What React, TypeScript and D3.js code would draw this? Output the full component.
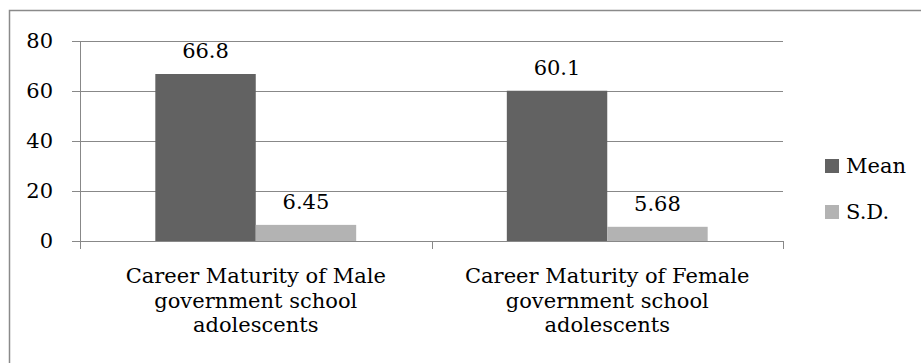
import React from "react";
import * as d3 from "d3";

// Chart data
const categories: string[][] = [
  ["Career Maturity of Male", "government school", "adolescents"],
  ["Career Maturity of Female", "government school", "adolescents"],
];
const seriesNames: string[] = ["Mean", "S.D."];
const meanValues: number[] = [66.8, 60.1];
const sdValues: number[] = [6.45, 5.68];
const valueLabels: string[][] = [
  ["66.8", "6.45"],
  ["60.1", "5.68"],
];
const yTicks: number[] = [0, 20, 40, 60, 80];

const W = 921;
const H = 363;
const plot = { left: 80, right: 783, top: 41, bottom: 241 };
const colors = ["#626262", "#b3b3b3"];
const axisColor = "#888888";
const FONT = "'DejaVu Serif', serif";
const FS = 21;

export default function App() {
  const y = d3.scaleLinear().domain([0, 80]).range([plot.bottom, plot.top]);
  const x0 = d3
    .scaleBand<number>()
    .domain(d3.range(categories.length))
    .range([plot.left, plot.right])
    .paddingInner(0)
    .paddingOuter(0);
  // gap width of 150% of a bar: 0.75 bar on each side of the pair
  const x1 = d3
    .scaleBand<number>()
    .domain(d3.range(seriesNames.length))
    .range([0, x0.bandwidth()])
    .paddingInner(0)
    .paddingOuter(0.75);

  const series = [meanValues, sdValues];
  const catBoundaries = [plot.left, ...categories.map((_, i) => (x0(i) as number) + x0.bandwidth())];

  return (
    <svg
      width={W}
      height={H}
      style={{ position: "absolute", left: 0, top: 0, background: "#fff" }}
      fontFamily={FONT}
    >
      <rect x={0} y={0} width={W} height={H} fill="#fff" />
      {/* chart frame (left and top edges visible) */}
      <path d={`M9.5,${H + 2}V10.5H${W + 2}`} fill="none" stroke="#8a8a8a" strokeWidth={1.5} />

      {/* gridlines and y ticks */}
      {yTicks.map((t) => (
        <g key={t}>
          <line
            x1={plot.left - 8}
            x2={plot.right}
            y1={Math.round(y(t)) + 0.5}
            y2={Math.round(y(t)) + 0.5}
            stroke={axisColor}
            strokeWidth={1}
          />
          <text
            x={53}
            y={y(t)}
            dy="0.35em"
            textAnchor="end"
            fontSize={FS}
            fill="#000"
          >
            {t}
          </text>
        </g>
      ))}

      {/* y axis */}
      <line x1={plot.left + 0.5} x2={plot.left + 0.5} y1={plot.top} y2={plot.bottom + 8} stroke={axisColor} />
      {/* x axis ticks */}
      {catBoundaries.map((b, i) => (
        <line
          key={i}
          x1={Math.round(b) + 0.5}
          x2={Math.round(b) + 0.5}
          y1={plot.bottom}
          y2={plot.bottom + 8}
          stroke={axisColor}
        />
      ))}

      {/* bars */}
      {categories.map((_, ci) =>
        series.map((vals, si) => {
          const bx = (x0(ci) as number) + (x1(si) as number);
          const v = vals[ci];
          return (
            <g key={`${ci}-${si}`}>
              <rect
                x={bx}
                y={y(v)}
                width={x1.bandwidth()}
                height={y(0) - y(v)}
                fill={colors[si]}
              />
              <text
                x={bx + x1.bandwidth() / 2}
                y={y(v) - 16}
                textAnchor="middle"
                fontSize={FS}
                fill="#000"
              >
                {valueLabels[ci][si]}
              </text>
            </g>
          );
        })
      )}

      {/* x axis line */}
      <line x1={plot.left} x2={plot.right} y1={plot.bottom + 0.5} y2={plot.bottom + 0.5} stroke={axisColor} />

      {/* category labels */}
      {categories.map((lines, ci) => (
        <text
          key={ci}
          x={(x0(ci) as number) + x0.bandwidth() / 2}
          y={283}
          textAnchor="middle"
          fontSize={FS}
          fill="#000"
        >
          {lines.map((l, li) => (
            <tspan key={li} x={(x0(ci) as number) + x0.bandwidth() / 2} dy={li === 0 ? 0 : 24.5}>
              {l}
            </tspan>
          ))}
        </text>
      ))}

      {/* legend */}
      {seriesNames.map((name, i) => {
        const cy = 166 + i * 46;
        return (
          <g key={name}>
            <rect x={825} y={cy - 7} width={14} height={14} fill={colors[i]} />
            <text x={846} y={cy} dy="0.35em" fontSize={FS} fill="#000">
              {name}
            </text>
          </g>
        );
      })}
    </svg>
  );
}
